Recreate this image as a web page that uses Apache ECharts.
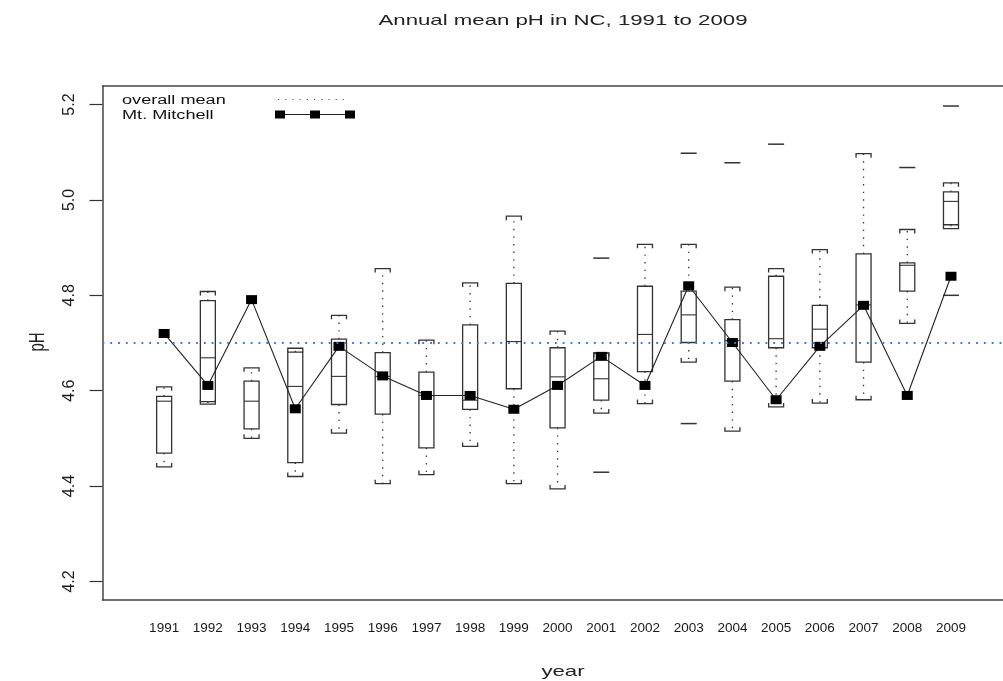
<!DOCTYPE html>
<html>
<head>
<meta charset="utf-8">
<script src="https://cdn.jsdelivr.net/npm/echarts@6/dist/echarts.min.js"></script>
<style>html,body{margin:0;padding:0;background:#fff}#c{width:1003px;height:681px}</style>
</head>
<body>
<div id="c"></div>
<script>
// ---- data ----
const years = ['1991','1992','1993','1994','1995','1996','1997','1998','1999','2000','2001','2002','2003','2004','2005','2006','2007','2008','2009'];
const whiskerHigh = [4.608,4.808,4.648,4.689,4.758,4.856,4.706,4.826,4.966,4.725,4.679,4.907,4.907,4.817,4.856,4.896,5.097,4.938,5.036];
const upperQuartile = [4.588,4.789,4.620,4.681,4.708,4.680,4.639,4.738,4.825,4.690,4.679,4.819,4.809,4.749,4.840,4.779,4.887,4.868,5.017];
const medians = [4.578,4.669,4.578,4.609,4.630,4.630,4.590,4.580,4.703,4.629,4.625,4.718,4.759,4.705,4.709,4.729,4.780,4.863,4.997];
const lowerQuartile = [4.469,4.577,4.520,4.449,4.571,4.551,4.480,4.561,4.604,4.522,4.580,4.640,4.701,4.620,4.690,4.690,4.660,4.809,4.948];
const whiskerLow = [4.440,4.572,4.500,4.420,4.511,4.405,4.424,4.483,4.405,4.394,4.553,4.573,4.660,4.515,4.566,4.574,4.581,4.741,4.940];
const outlierYears = ['2001','2001','2003','2003','2004','2005','2008','2009','2009'];
const outlierValues = [4.878,4.429,5.098,4.531,5.078,5.117,5.068,5.197,4.800];
const mitchell = [4.720,4.611,4.791,4.562,4.693,4.631,4.590,4.590,4.561,4.611,4.672,4.611,4.820,4.701,4.581,4.693,4.779,4.590,4.840];
const overallMean = 4.70;
const yTicks = [4.2,4.4,4.6,4.8,5.0,5.2];

// ---- chart ----
const chart = echarts.init(document.getElementById('c'), null, {renderer:'canvas'});
const FONT = '"Liberation Sans", Arial, sans-serif';
const pos = years.map((y,i)=>i+1);
const boxData = years.map((y,i)=>[i+1, whiskerLow[i], lowerQuartile[i], medians[i], upperQuartile[i], whiskerHigh[i]]);
const outData = outlierYears.map((y,i)=>[years.indexOf(y)+1, outlierValues[i]]);
const mitData = years.map((y,i)=>[i+1, mitchell[i]]);
const INK = '#333';
const XMIN = -0.41, XMAX = 20.19;

function renderBox(params, api){
  const x = api.value(0);
  const pLo = api.coord([x, api.value(1)]);
  const pQ1 = api.coord([x, api.value(2)]);
  const pMed = api.coord([x, api.value(3)]);
  const pQ3 = api.coord([x, api.value(4)]);
  const pHi = api.coord([x, api.value(5)]);
  const cx = pMed[0];
  const hw = 7.5, tk = 4;
  const dot = {stroke: INK, lineWidth: 1.3, lineDash: [1.4, 6.2]};
  const solid = {stroke: INK, lineWidth: 1.3, fill: null};
  return {type:'group', children:[
    {type:'line', shape:{x1:cx,y1:pQ3[1],x2:cx,y2:pHi[1]}, style:dot},
    {type:'line', shape:{x1:cx,y1:pQ1[1],x2:cx,y2:pLo[1]}, style:dot},
    {type:'polyline', shape:{points:[[cx-hw,pHi[1]+tk],[cx-hw,pHi[1]],[cx+hw,pHi[1]],[cx+hw,pHi[1]+tk]]}, style:solid},
    {type:'polyline', shape:{points:[[cx-hw,pLo[1]-tk],[cx-hw,pLo[1]],[cx+hw,pLo[1]],[cx+hw,pLo[1]-tk]]}, style:solid},
    {type:'rect', shape:{x:cx-hw,y:pQ3[1],width:2*hw,height:pQ1[1]-pQ3[1]}, style:{stroke:INK,lineWidth:1.3,fill:null}},
    {type:'line', shape:{x1:cx-hw,y1:pMed[1],x2:cx+hw,y2:pMed[1]}, style:{stroke:INK,lineWidth:1.1}}
  ]};
}
function renderOut(params, api){
  const p = api.coord([api.value(0), api.value(1)]);
  return {type:'line', shape:{x1:p[0]-8,y1:p[1],x2:p[0]+8,y2:p[1]}, style:{stroke:INK,lineWidth:1.5}};
}

const frame = {show:true, onZero:false, lineStyle:{color:'#444', width:1.5}};
const option = {
  animation:false,
  backgroundColor:'#fff',
  grid:{left:102.5, top:86, right:0, bottom:81, show:false},
  xAxis:[{
    type:'value', min:XMIN, max:XMAX, position:'bottom',
    axisLine:frame, axisTick:{show:false}, splitLine:{show:false},
    axisLabel:{customValues:pos, formatter:v=>years[Math.round(v)-1] || '', fontSize:13.5, color:'#1a1a1a', fontFamily:FONT, margin:21}
  },{
    type:'value', min:XMIN, max:XMAX, position:'top',
    axisLine:frame, axisTick:{show:false}, splitLine:{show:false}, axisLabel:{show:false}
  }],
  yAxis:{
    type:'value', min:4.161, max:5.239,
    axisLine:frame, splitLine:{show:false},
    axisTick:{show:true, inside:false, customValues:yTicks, length:13, lineStyle:{color:'#333', width:1.2}},
    axisLabel:{customValues:yTicks, formatter:v=>v.toFixed(1), rotate:90, fontSize:16, color:'#1a1a1a', fontFamily:FONT, margin:25}
  },
  graphic:[
    {type:'text', x:563, y:20.5, scaleX:1.48, style:{text:'Annual mean pH in NC, 1991 to 2009', font:'15px '+FONT, fill:'#222', textAlign:'center', textVerticalAlign:'middle'}},
    {type:'text', x:563, y:672, scaleX:1.48, style:{text:'year', font:'15px '+FONT, fill:'#222', textAlign:'center', textVerticalAlign:'middle'}},
    {type:'text', x:38, y:342, rotation:Math.PI/2, scaleY:1.48, style:{text:'pH', font:'15px '+FONT, fill:'#222', textAlign:'center', textVerticalAlign:'middle'}},
    {type:'text', x:122, y:101, scaleX:1.45, style:{text:'overall mean', font:'12.5px '+FONT, fill:'#111', textAlign:'left', textVerticalAlign:'middle'}},
    {type:'text', x:122, y:116, scaleX:1.45, style:{text:'Mt. Mitchell', font:'12.5px '+FONT, fill:'#111', textAlign:'left', textVerticalAlign:'middle'}},
    {type:'line', shape:{x1:278,y1:99.5,x2:348,y2:99.5}, style:{stroke:'#555', lineWidth:1.2, lineDash:[1.2,6]}},
    {type:'line', shape:{x1:279,y1:114.5,x2:351,y2:114.5}, style:{stroke:'#222', lineWidth:1.2}},
    {type:'rect', shape:{x:275,y:110.5,width:10,height:8}, style:{fill:'#000'}},
    {type:'rect', shape:{x:310,y:110.5,width:10,height:8}, style:{fill:'#000'}},
    {type:'rect', shape:{x:345,y:110.5,width:10,height:8}, style:{fill:'#000'}}
  ],
  series:[
    {type:'custom', name:'boxes', renderItem:renderBox, data:boxData, encode:{x:0, y:[1,2,3,4,5]}, z:2,
     markLine:{silent:true, symbol:['none','none'], label:{show:false}, data:[{yAxis:overallMean}],
       lineStyle:{color:'#1f7ee8', type:[1.8,6], width:1.8}, emphasis:{disabled:true}}},
    {type:'custom', name:'outliers', renderItem:renderOut, data:outData, encode:{x:0,y:1}, z:3},
    {type:'line', name:'Mt. Mitchell', data:mitData, symbol:'rect', symbolSize:[11,9], z:4,
     itemStyle:{color:'#000'}, lineStyle:{color:'#222', width:1.1}}
  ]
};
chart.setOption(option);
</script>
</body>
</html>
